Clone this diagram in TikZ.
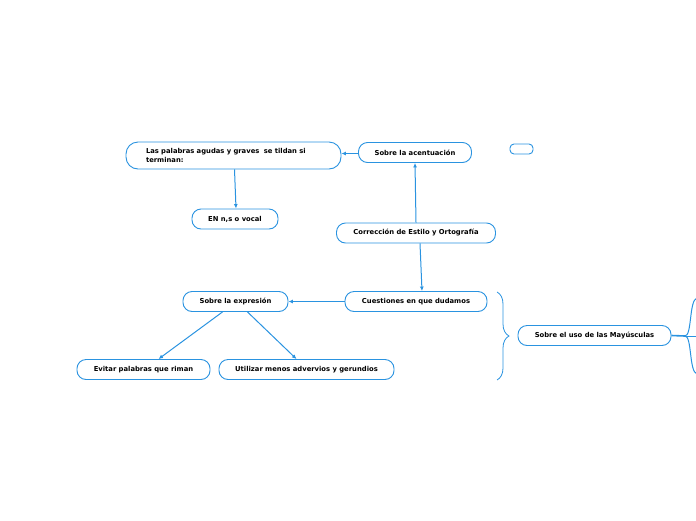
\documentclass[tikz,border=0pt]{standalone}
\usepackage{fontspec}
\setmainfont{DejaVu Sans}
\usetikzlibrary{positioning,arrows.meta,decorations.pathreplacing}

\definecolor{mapblue}{HTML}{2A93E0}

\begin{document}
\begin{tikzpicture}[
  x=1pt, y=-1pt,
  font=\fontsize{6.8}{8.4}\selectfont\bfseries,
  >={Latex[length=4.5pt,width=4pt]},
  topic/.style={draw=mapblue, line width=0.9pt, fill=white, rounded corners=9pt,
                minimum height=20pt, inner sep=2pt, align=center},
  flow/.style={->, mapblue, line width=1pt},
  branch/.style={mapblue, line width=1pt},
]
\useasboundingbox (0,0) rectangle (696,520);

% ============ centre ============
\node[topic, minimum width=159pt] (corr) at (416,233) {Corrección de Estilo y Ortografía};

% ---- acentuacion (top) ----
\node[topic, minimum width=113pt] (acent) at (415,152.5) {Sobre la acentuación};
\node[topic, rounded corners=12pt, minimum height=27pt, text width=175pt,
      inner xsep=20pt, align=left] (agudas) at (233.5,155.5)
  {Las palabras agudas y graves\ \ se tildan si\\terminan:};
\node[topic, minimum width=86pt] (vocal) at (235,219) {EN n,s o vocal};
\node[topic, minimum width=23pt, minimum height=10pt, rounded corners=4pt,
      inner sep=0pt] (empty) at (521.5,149) {};
\draw[flow] (corr.north) -- (acent.south);
\draw[flow] ([yshift=-1pt]acent.west) -- ([yshift=-1pt]acent.west -| agudas.east);
\draw[flow] ([xshift=1pt]agudas.south) -- ([xshift=1pt]vocal.north);

% ---- dudas (bottom) ----
\node[topic, minimum width=142pt] (dudas) at (416,301.5) {Cuestiones en que dudamos};
\node[topic, minimum width=105pt] (expr) at (235.5,301.5) {Sobre la expresión};
\node[topic, minimum width=133pt] (riman) at (143.5,369.5) {Evitar palabras que riman};
\node[topic, minimum width=175pt] (adverb) at (306.5,369.5) {Utilizar menos advervios y gerundios};
\draw[flow] ([xshift=4pt]corr.south) -- ([xshift=6pt]dudas.north);
\draw[flow] (dudas.west) -- (expr.east);
\draw[flow] ([xshift=-13pt]expr.south) -- ([xshift=15pt]riman.north);
\draw[flow] ([xshift=12pt]expr.south) -- ([xshift=-10pt]adverb.north);

% ---- mayusculas (right) ----
\node[topic, minimum width=153pt] (mayus) at (594.5,335.5) {Sobre el uso de las Mayúsculas};
\draw[mapblue, line width=0.8pt, decorate, decoration={brace, amplitude=12pt}]
  (497,292) -- (497,380);
\coordinate (fork) at (685,336);
\coordinate (outA) at (697,298);
\coordinate (outB) at (697,336);
\coordinate (outC) at (697,374);
\draw[branch, line width=1.6pt] (mayus.east) -- (fork);
\draw[branch] (fork) .. controls (692,336) and (689,300) .. (outA);
\draw[branch] (fork) -- (outB);
\draw[branch] (fork) .. controls (692,336) and (689,372) .. (outC);

\end{tikzpicture}
\end{document}
